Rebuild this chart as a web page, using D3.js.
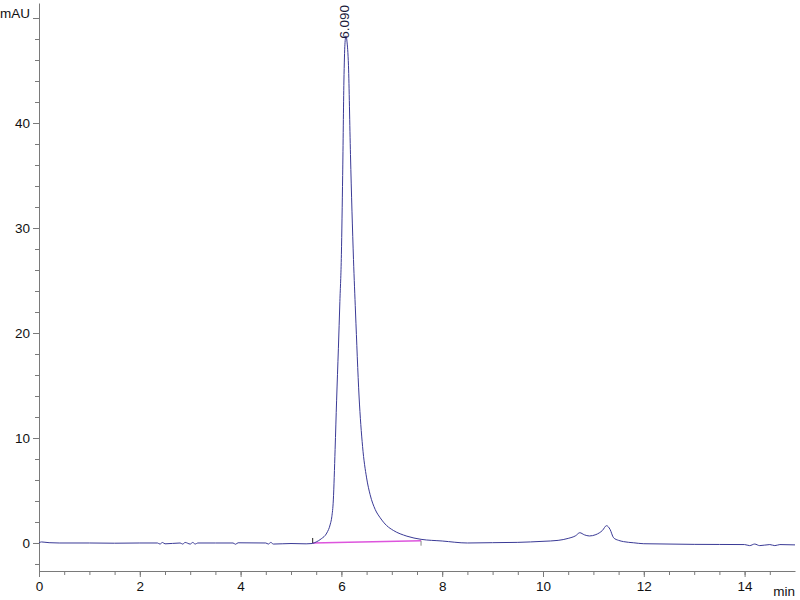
<!DOCTYPE html>
<html>
<head>
<meta charset="utf-8">
<script src="https://cdn.jsdelivr.net/npm/d3@7"></script>
<style>
  body { margin: 0; background: #fff; }
  svg text { font-family: "Liberation Sans Narrow", "Arial Narrow", "Liberation Sans", sans-serif; }
</style>
</head>
<body>
<div id="chart"></div>
<script>
/* HPLC chromatogram: absorbance (mAU) vs retention time (min) */

// retention time (min) of the trace points
const times = [0, 0.05, 0.1, 0.2, 0.4, 1.0, 1.5, 2.0, 2.35, 2.4, 2.45, 2.5, 2.8, 2.85, 2.9, 3.0, 3.05, 3.1, 3.15,
  3.5, 3.85, 3.9, 3.95, 4.5, 4.55, 4.6, 4.65, 5.0, 5.3, 5.42, 5.5, 5.6, 5.71, 5.78, 5.81, 5.84, 5.875, 5.905,
  5.94, 5.97, 6.0, 6.025, 6.05, 6.07, 6.09, 6.11, 6.14, 6.18, 6.24, 6.28, 6.35, 6.42, 6.5, 6.57, 6.67, 6.77,
  6.9, 7.03, 7.3, 7.58, 8.0, 8.5, 9.0, 9.5, 10.0, 10.3, 10.5, 10.65, 10.73, 10.82, 10.92, 11.05, 11.18, 11.26,
  11.33, 11.4, 11.5, 11.6, 11.8, 12.0, 12.5, 13.0, 13.5, 14.0, 14.1, 14.2, 14.3, 14.5, 14.6, 14.7, 15.0];

// absorbance (mAU) at each time
const signal = [0.02, 0.1, 0.08, 0.03, 0.0, 0.0, -0.02, 0.0, 0.0, -0.1, 0.05, -0.08, 0.0, -0.1, 0.05, -0.1, 0.05, -0.1, 0.0,
  0.0, 0.0, -0.12, 0.02, 0.0, -0.1, 0.05, -0.1, -0.05, -0.08, -0.05, 0.1, 0.4, 0.95, 1.8, 2.5, 4.1, 8.9, 13.6,
  18.5, 23, 27.5, 35, 44, 47.5, 48.3, 47.8, 45.5, 37, 27, 22, 14, 9.2, 6.2, 4.6, 3.2, 2.4,
  1.65, 1.2, 0.65, 0.35, 0.19, 0.0, 0.03, 0.06, 0.16, 0.25, 0.44, 0.7, 0.98, 0.78, 0.67, 0.8, 1.2, 1.65,
  1.3, 0.5, 0.25, 0.13, 0.02, -0.07, -0.1, -0.13, -0.14, -0.15, -0.25, -0.1, -0.25, -0.15, -0.25, -0.15, -0.18];

// integration baseline under the main peak
const baseTimes = [5.43, 7.58];
const baseValues = [0.0, 0.22];

// peak annotation
const peakTime = 6.09;
const peakValue = 48.3;
const peakLabel = "6.090";

// axis ticks
const yMajor = [0, 10, 20, 30, 40];
const yMinor = d3.range(-2, 51, 2);
const xMajor = [0, 2, 4, 6, 8, 10, 12, 14];
const xMinor = d3.range(0, 15, 0.5);

const width = 800, height = 600;
const margin = { top: 3, right: 5, bottom: 29, left: 39 };

const svg = d3.select("#chart").append("svg")
  .attr("width", width)
  .attr("height", height);

const x = d3.scaleLinear()
  .domain([0, 15])
  .range([margin.left, width - margin.right]);

const y = d3.scaleLinear()
  .domain([-2.667, 51.43])
  .range([height - margin.bottom, margin.top]);

const axisColor = "#7a7a7a";

// y axis: minor ticks, then major with labels
svg.append("g")
  .attr("transform", `translate(${margin.left},0)`)
  .call(d3.axisLeft(y).tickValues(yMinor).tickSize(4).tickSizeOuter(0).tickFormat(""))
  .call(g => g.selectAll("line, path").attr("stroke", axisColor));

svg.append("g")
  .attr("transform", `translate(${margin.left},0)`)
  .call(d3.axisLeft(y).tickValues(yMajor.concat([50])).tickSize(6).tickSizeOuter(0)
    .tickFormat(d => d === 50 ? "mAU" : d))
  .call(g => g.select(".domain").remove())
  .call(g => g.selectAll("line").attr("stroke", axisColor))
  .call(g => g.selectAll("text").attr("font-size", 13.5).attr("fill", "#111").attr("x", -9))
  .call(g => g.selectAll(".tick").filter(d => d === 50).select("text").attr("dy", "-0.05em"));

// x axis
svg.append("g")
  .attr("transform", `translate(0,${height - margin.bottom})`)
  .call(d3.axisBottom(x).tickValues(xMinor).tickSize(4).tickSizeOuter(0).tickFormat(""))
  .call(g => g.selectAll("line, path").attr("stroke", axisColor));

svg.append("g")
  .attr("transform", `translate(0,${height - margin.bottom})`)
  .call(d3.axisBottom(x).tickValues(xMajor).tickSize(6).tickSizeOuter(0).tickFormat(d3.format("d")))
  .call(g => g.select(".domain").remove())
  .call(g => g.selectAll("line").attr("stroke", axisColor))
  .call(g => g.selectAll("text").attr("font-size", 13.5).attr("fill", "#111").attr("y", 10));

svg.append("text")
  .attr("x", x(15))
  .attr("y", height - 4)
  .attr("text-anchor", "end")
  .attr("font-size", 13.5)
  .attr("fill", "#111")
  .text("min");

// integration baseline (pink) and its start/end marks
const basePts = baseTimes.map((t, i) => [t, baseValues[i]]);
svg.append("path")
  .datum(basePts)
  .attr("fill", "none")
  .attr("stroke", "#dd55dd")
  .attr("stroke-width", 1.6)
  .attr("d", d3.line().x(d => x(d[0])).y(d => y(d[1])));

svg.append("line")
  .attr("x1", x(baseTimes[0])).attr("x2", x(baseTimes[0]))
  .attr("y1", y(baseValues[0])).attr("y2", y(baseValues[0]) - 5)
  .attr("stroke", "#222");
svg.append("line")
  .attr("x1", x(baseTimes[1])).attr("x2", x(baseTimes[1]))
  .attr("y1", y(baseValues[1])).attr("y2", y(baseValues[1]) + 5)
  .attr("stroke", "#888");

// the trace
const pts = times.map((t, i) => [t, signal[i]]);
svg.append("path")
  .datum(pts)
  .attr("fill", "none")
  .attr("stroke", "#3a3a96")
  .attr("stroke-width", 1)
  .attr("d", d3.line().x(d => x(d[0])).y(d => y(d[1])).curve(d3.curveMonotoneX));

// retention time label, rotated
svg.append("text")
  .attr("transform", `translate(${x(peakTime)},${y(peakValue) + 3}) rotate(-90)`)
  .attr("dominant-baseline", "middle")
  .attr("font-size", 13.5)
  .attr("fill", "#1a1a3a")
  .text(peakLabel);
</script>
</body>
</html>
